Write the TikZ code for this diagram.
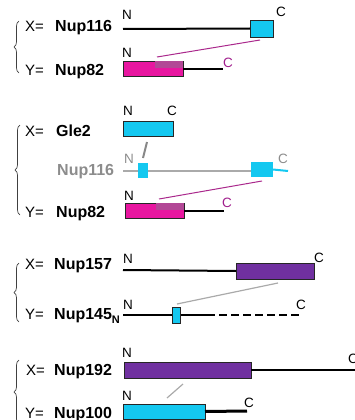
\documentclass[tikz,border=0pt]{standalone}
\usepackage{fontspec}
\setmainfont{Liberation Sans}
\usetikzlibrary{decorations.pathreplacing}
\definecolor{cyanB}{RGB}{20,200,240}
\definecolor{magB}{RGB}{232,22,160}
\definecolor{overB}{RGB}{178,72,150}
\definecolor{purB}{RGB}{112,48,160}
\definecolor{grayL}{RGB}{170,170,170}
\definecolor{grayT}{RGB}{140,140,140}
\definecolor{magT}{RGB}{160,30,140}
\definecolor{magC}{RGB}{170,40,140}
\begin{document}
\begin{tikzpicture}[x=1pt,y=-1pt,
  lab/.style={font=\fontsize{15}{18}\selectfont, anchor=base west, inner sep=0},
  pname/.style={font=\fontsize{16}{18}\selectfont\bfseries, anchor=base west, inner sep=0},
  tlab/.style={font=\fontsize{13.5}{15}\selectfont, anchor=base west, inner sep=0},
  bx/.style={draw=black!85, line width=0.8pt, anchor=north west, inner sep=0, outer sep=0},
  cbox/.style={bx, fill=cyanB},
  mbox/.style={bx, fill=magB},
  pbox/.style={bx, fill=purB},
  obox/.style={fill=overB, anchor=north west, inner sep=0, outer sep=0},
  bline/.style={line width=2pt, black},
  gcon/.style={line width=1.2pt, grayL},
  mcon/.style={line width=1pt, magC},
  brc/.style={decorate, decoration={brace, amplitude=5pt}, line width=0.7pt, draw=black!75}
]
\useasboundingbox (0,0) rectangle (354,420);

% ---------- Panel 1 ----------
\draw[brc] (19,73) -- (19,21);
\node[lab] (x1) at (25,32) {X=};
\node[pname] (n1) at (55,32) {Nup116};
\node[lab] (y1) at (25,75) {Y=};
\node[pname] (n2) at (55,75) {Nup82};
\node[tlab] (n1N) at (122,20) {N};
\node[tlab] (n1C) at (276,17) {C};
\coordinate (a1) at (123,29);
\node[cbox, minimum width=23pt, minimum height=17pt] (c1) at (250,20) {};
\draw[bline] (a1) -- (c1.west);
\coordinate (p1) at (260,40);
\coordinate (q1) at (157,57);
\draw[mcon] (p1) -- (q1);
\node[tlab] (m1N) at (122,58) {N};
\node[mbox, minimum width=60pt, minimum height=15pt] (m1) at (123,61) {};
\node[obox, minimum width=28pt, minimum height=7pt] (o1) at (155,61) {};
\coordinate (b1) at (223,68.5);
\draw[bline] (m1.east) -- (b1);
\node[tlab, text=magT] (m1C) at (223,67) {C};

% ---------- Panel 2 ----------
\draw[brc] (20,215) -- (20,125);
\node[lab] (x2) at (25,136) {X=};
\node[pname] (g2) at (56,136) {Gle2};
\node[tlab] (g2N) at (123,115) {N};
\node[tlab] (g2C) at (167,115) {C};
\node[cbox, minimum width=50pt, minimum height=15pt] (g2b) at (123,121) {};
\coordinate (p2) at (147,142);
\coordinate (q2) at (143,158);
\draw[line width=2pt, grayL!80!black] (p2) -- (q2);
\node[tlab, text=grayT] (u2N) at (124,163) {N};
\node[pname, text=grayT] (u2) at (57,175) {Nup116};
\coordinate (a2) at (123,171);
\coordinate (e2) at (252,171);
\draw[line width=2.5pt, grayL] (a2) -- (e2);
\node[cbox, draw=none, minimum width=10pt, minimum height=15pt] (s2) at (138,163) {};
\node[cbox, draw=none, minimum width=22pt, minimum height=15pt] (c2) at (251,162) {};
\coordinate (f2) at (288,171);
\draw[line width=2pt, cyanB] (c2.east) -- (f2);
\node[tlab, text=grayT] (u2C) at (278,163) {C};
\coordinate (p3) at (262,181);
\coordinate (q3) at (159,199);
\draw[mcon] (p3) -- (q3);
\node[tlab] (m2N) at (124,200) {N};
\node[lab] (y2) at (25,217) {Y=};
\node[pname] (n22) at (56,217) {Nup82};
\node[mbox, minimum width=59pt, minimum height=15pt] (m2) at (125,203) {};
\node[obox, minimum width=28pt, minimum height=7pt] (o2) at (156,203) {};
\coordinate (b2) at (224,210.5);
\draw[bline] (m2.east) -- (b2);
\node[tlab, text=magT] (m2C) at (222,207) {C};

% ---------- Panel 3 ----------
\draw[brc] (19,322) -- (19,263);
\node[lab] (x3) at (25,269) {X=};
\node[pname] (n3) at (54,269) {Nup157};
\node[tlab] (n3N) at (123,263) {N};
\coordinate (a3) at (123,270);
\node[pbox, minimum width=78pt, minimum height=16pt] (p3b) at (236,263) {};
\draw[bline] (a3) -- (p3b.west);
\node[tlab] (n3C) at (314,262) {C};
\coordinate (p4) at (278,283);
\coordinate (q4) at (177,304);
\draw[gcon] (p4) -- (q4);
\node[lab] (y3) at (25,319) {Y=};
\node[pname] (n4) at (54,319) {Nup145\raisebox{-4pt}{\fontsize{11}{12}\selectfont N}};
\node[tlab] (n4N) at (123,309) {N};
\coordinate (a4) at (123,314.5);
\coordinate (d4) at (207,314.5);
\coordinate (e4) at (300,314.5);
\draw[bline] (a4) -- (d4);
\draw[bline, dash pattern=on 8pt off 4pt] (d4) -- (e4);
\node[cbox, minimum width=8pt, minimum height=16pt] (s4) at (172,307) {};
\node[tlab] (n4C) at (296,309) {C};

% ---------- Panel 4 ----------
\draw[brc] (19,424) -- (19,360);
\node[tlab] (n5N) at (122,357) {N};
\node[pbox, minimum width=127pt, minimum height=16pt] (p5) at (124,362) {};
\coordinate (e5) at (356,370);
\draw[bline] (p5.east) -- (e5);
\node[tlab] (n5C) at (348,363) {C};
\node[lab] (x5) at (26,375) {X=};
\node[pname] (n5) at (54,375) {Nup192};
\coordinate (p6) at (183,384);
\coordinate (q6) at (167,398);
\draw[gcon] (p6) -- (q6);
\node[tlab] (n6N) at (122,400) {N};
\node[cbox, minimum width=82pt, minimum height=15pt] (c6) at (123,404) {};
\coordinate (e6) at (247,411);
\draw[line width=3pt, black] (c6.east) -- (e6);
\node[tlab] (n6C) at (244,407) {C};
\node[lab] (y6) at (25,418) {Y=};
\node[pname] (n6) at (54,418) {Nup100};
\end{tikzpicture}
\end{document}
